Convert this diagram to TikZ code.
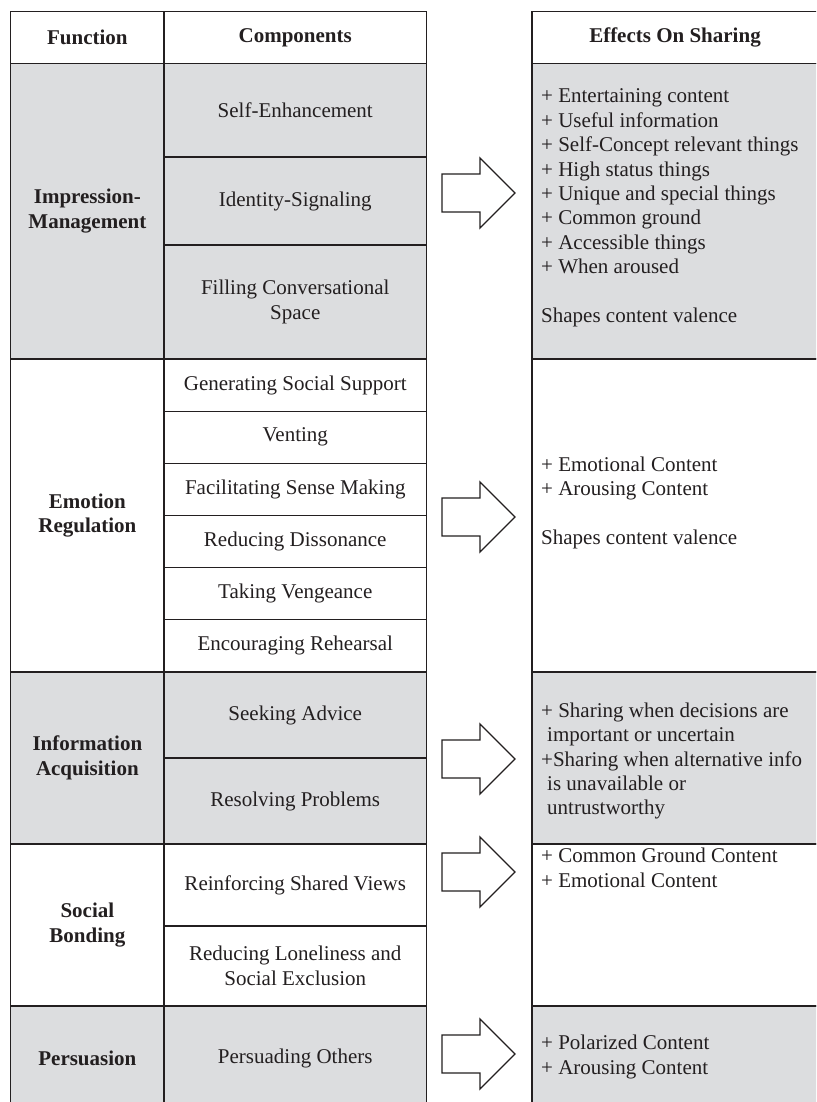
\documentclass[tikz,border=0pt]{standalone}
\usepackage{fontspec}
\setmainfont{Liberation Serif}
\usepackage{xcolor}
\definecolor{cellgray}{HTML}{DCDDDF}
\definecolor{ink}{HTML}{231F20}

\begin{document}
\begin{tikzpicture}[x=1pt, y=-1pt,
    cell/.style={draw=ink, line width=1.3pt, inner sep=0pt, align=center, text=ink,
      font=\fontsize{21}{24.4}\selectfont},
    func/.style={cell, font=\fontsize{21}{24.4}\selectfont\bfseries},
    effect/.style={anchor=west, inner sep=0pt, align=left, text=ink,
      font=\fontsize{21}{24.4}\selectfont},
    blockarrow/.style={draw=ink, line width=1.3pt, fill=white, line join=miter}]
  \useasboundingbox (0,0) rectangle (816,1102);
  \clip (0,0) rectangle (816,1102);
  \fill[white] (0,0) rectangle (816,1102);

  % header row
  \node[func, minimum width=153.3pt, minimum height=51.6pt] (hfun) at (87.35,37.5) {Function};
  \node[func, minimum width=262.5pt, minimum height=51.6pt] (hcomp) at (295.25,37.5) {Components};
  \node[func, minimum width=286pt, minimum height=51.6pt] (heff) at (675,37.5) {Effects On Sharing};

  % function column
  \foreach \name/\ya/\yb/\col/\txt in {fimp/63.3/359/cellgray/{Impression-\\Management},
      femo/359/672/white/{Emotion\\Regulation}, finf/672/844/cellgray/{Information\\Acquisition},
      fsoc/844/1006/white/{Social\\Bonding}, fper/1006/1110/cellgray/Persuasion}{
    \node[func, fill=\col, minimum width=153.3pt, minimum height={\yb pt-\ya pt}]
      (\name) at (87.35,{(\ya+\yb)/2}) {\txt};
  }

  % components column
  \foreach \name/\ya/\yb/\col/\txt in {cse/63.3/157/cellgray/Self-Enhancement,
      cis/157/245/cellgray/Identity-Signaling, cfc/245/359/cellgray/{Filling Conversational\\Space},
      cgs/359/411.2/white/Generating Social Support, cve/411.2/463.3/white/Venting,
      csm/463.3/515.5/white/Facilitating Sense Making, crd/515.5/567.7/white/Reducing Dissonance,
      ctv/567.7/619.8/white/Taking Vengeance, cer/619.8/672/white/Encouraging Rehearsal,
      csa/672/758/cellgray/Seeking Advice, crp/758/844/cellgray/Resolving Problems,
      crs/844/926/white/Reinforcing Shared Views,
      crl/926/1006/white/{Reducing Loneliness and\\Social Exclusion},
      cpo/1006/1110/cellgray/Persuading Others}{
    \node[cell, fill=\col, minimum width=262.5pt, minimum height={\yb pt-\ya pt}]
      (\name) at (295.25,{(\ya+\yb)/2}) {\txt};
  }

  % effects column
  \foreach \name/\ya/\yb/\col in {eimp/63.3/359/cellgray, eemo/359/672/white,
      einf/672/844/cellgray, esoc/844/1006/white, eper/1006/1110/cellgray}{
    \node[cell, fill=\col, minimum width=286pt, minimum height={\yb pt-\ya pt}]
      (\name) at (675,{(\ya+\yb)/2}) {};
  }

  \node[effect] (timp) at (541,208) {+ Entertaining content\\+ Useful information\\
    + Self-Concept relevant things\\+ High status things\\+ Unique and special things\\
    + Common ground\\+ Accessible things\\+ When aroused\\[24.4pt]Shapes content valence};
  \node[effect] (temo) at (541,503) {+ Emotional Content\\+ Arousing Content\\[24.4pt]Shapes content valence};
  \node[effect] (tinf) at (541,761) {+ Sharing when decisions are\\\hspace*{6pt}important or uncertain\\
    +Sharing when alternative info\\\hspace*{6pt}is unavailable or\\\hspace*{6pt}untrustworthy};
  \node[effect] (tsoc) at (541,868) {+ Common Ground Content\\+ Emotional Content};
  \node[effect] (tper) at (541,1057) {+ Polarized Content\\+ Arousing Content};

  % block arrows
  \foreach \ty in {193,517,759,872,1054}{
    \draw[blockarrow] (442,\ty-19) -- (480,\ty-19) -- (480,\ty-35) -- (515,\ty)
      -- (480,\ty+35) -- (480,\ty+19) -- (442,\ty+19) -- cycle;
  }
\end{tikzpicture}
\end{document}
